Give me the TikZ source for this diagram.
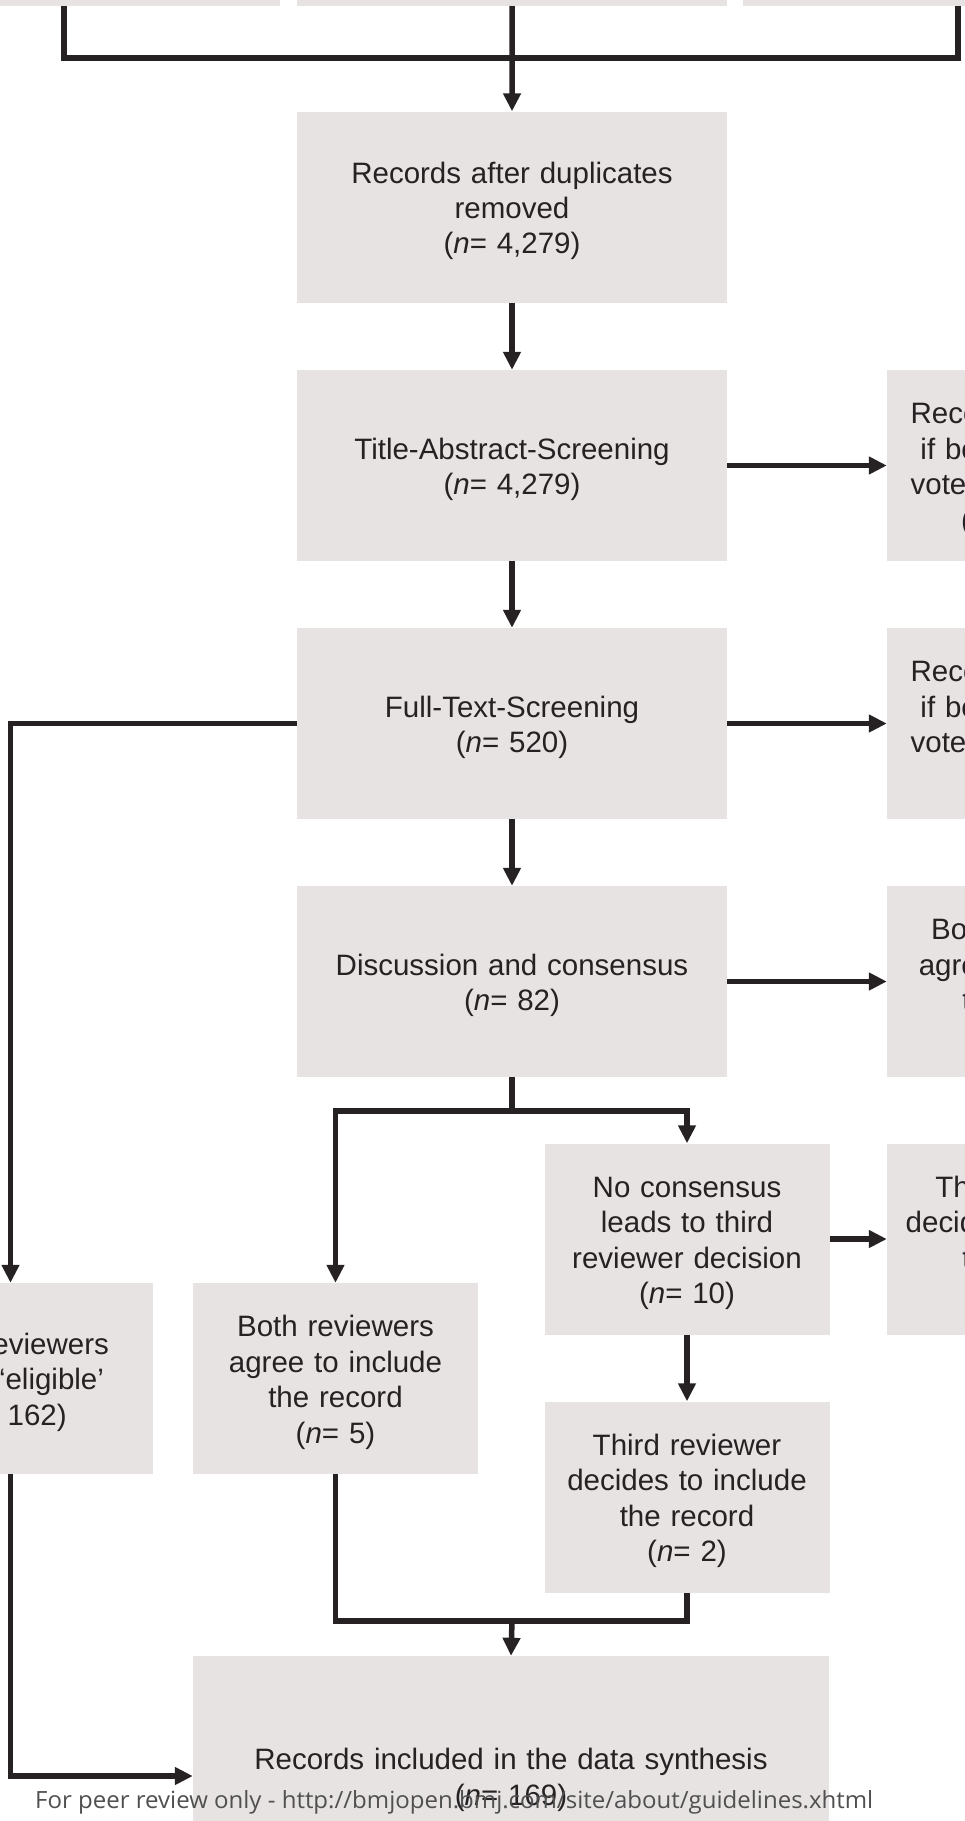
\documentclass[tikz,border=0pt]{standalone}
\usepackage{fontspec}
\setmainfont{Liberation Sans}
\newfontfamily\footfont{Open Sans}
\usetikzlibrary{arrows.meta}
\definecolor{boxgray}{RGB}{231,227,227}
\definecolor{ink}{RGB}{38,34,35}
\definecolor{footgray}{RGB}{80,80,80}
\tikzset{
  box/.style={rectangle, fill=boxgray, inner sep=0pt, align=center, text=ink,
    font=\fontsize{29.5}{35.4}\selectfont, execute at begin node={\rule{0pt}{29pt}}},
  wide/.style={box, minimum width=430pt, text width=420pt, minimum height=191pt},
  narrow/.style={box, minimum width=285pt, text width=280pt, minimum height=191pt},
  conn/.style={draw=ink, line width=5.5pt},
  arr/.style={conn, -{Triangle[length=18pt,width=17pt]}}
}
\begin{document}
\begin{tikzpicture}[x=1pt, y=-1pt]
\useasboundingbox (0,0) rectangle (965,1821);
\clip (0,0) rectangle (965,1821);
\fill[white] (0,0) rectangle (965,1821);
% top (cut) boxes
\node[box, minimum width=290pt, minimum height=100pt, anchor=south west] (t1) at (-10,6) {};
\node[box, minimum width=430pt, minimum height=100pt, anchor=south west] (t2) at (297,6) {};
\node[box, minimum width=430pt, minimum height=100pt, anchor=south west] (t3) at (743,6) {};
\coordinate (j0) at (512,58);
% main column
\node[wide] (dup) at (512,207) {Records after duplicates\\removed\\(\textit{n}= 4,279)};
\node[wide] (title) at (512,465.5) {Title-Abstract-Screening\\(\textit{n}= 4,279)};
\node[wide] (full) at (512,723.5) {Full-Text-Screening\\(\textit{n}= 520)};
\node[wide] (disc) at (512,981.5) {Discussion and consensus\\(\textit{n}= 82)};
% right (cut) boxes
\node[narrow] (ex1) at (1029.5,465.5) {Records excluded\\if both reviewers\\voted ‘not eligible’\\(\textit{n}= 3,759)};
\node[narrow] (ex2) at (1029.5,723.5) {Records excluded\\if both reviewers\\voted ‘not eligible’\\(\textit{n}= 276)};
\node[narrow] (ex3) at (1029.5,981.5) {Both reviewers\\agree to exclude\\the record\\(\textit{n}= 67)};
\node[narrow] (ex4) at (1029.5,1239) {Third reviewer\\decides to exclude\\the record\\(\textit{n}= 8)};
% lower boxes
\node[narrow] (left) at (10.5,1378.5) {Both reviewers\\voted ‘eligible’\\(\textit{n}= 162)};
\node[narrow] (incl) at (335.5,1378.5) {Both reviewers\\agree to include\\the record\\(\textit{n}= 5)};
\node[narrow] (noc) at (687,1239) {No consensus\\leads to third\\reviewer decision\\(\textit{n}= 10)};
\node[narrow] (third) at (687,1497) {Third reviewer\\decides to include\\the record\\(\textit{n}= 2)};
\node[box, minimum width=636pt, text width=620pt, minimum height=240pt] (final) at (511,1776)
  {Records included in the data synthesis\\(\textit{n}= 169)};
\coordinate (j1) at (512,1111);
\coordinate (j2) at (512,1621);
% connectors
\draw[conn] ([xshift=74pt]t1.south west) |- (j0) -| ([xshift=215pt]t3.south west);
\draw[arr] (t2.south) -- (dup.north);
\draw[arr] (dup.south) -- (title.north);
\draw[arr] (title.south) -- (full.north);
\draw[arr] (full.south) -- (disc.north);
\draw[arr] (title.east) -- (ex1.west);
\draw[arr] (full.east) -- (ex2.west);
\draw[arr] (disc.east) -- (ex3.west);
\draw[arr] (noc.east) -- (ex4.west);
\draw[conn] (disc.south) -- (j1);
\draw[arr] (j1) -| (incl.north);
\draw[arr] (j1) -| (noc.north);
\draw[arr] (noc.south) -- (third.north);
\draw[arr] (full.west) -| (left.north);
\draw[arr] (left.south) |- (final.west);
\draw[conn] (incl.south) |- (j2) -| (third.south);
\draw[arr] (j2) -- (final.north);
% footer
\node[anchor=base west, inner sep=0pt, text=footgray] (foot) at (35,1808)
  {\resizebox{838pt}{18pt}{\footfont For peer review only - http://bmjopen.bmj.com/site/about/guidelines.xhtml}};
\end{tikzpicture}
\end{document}
